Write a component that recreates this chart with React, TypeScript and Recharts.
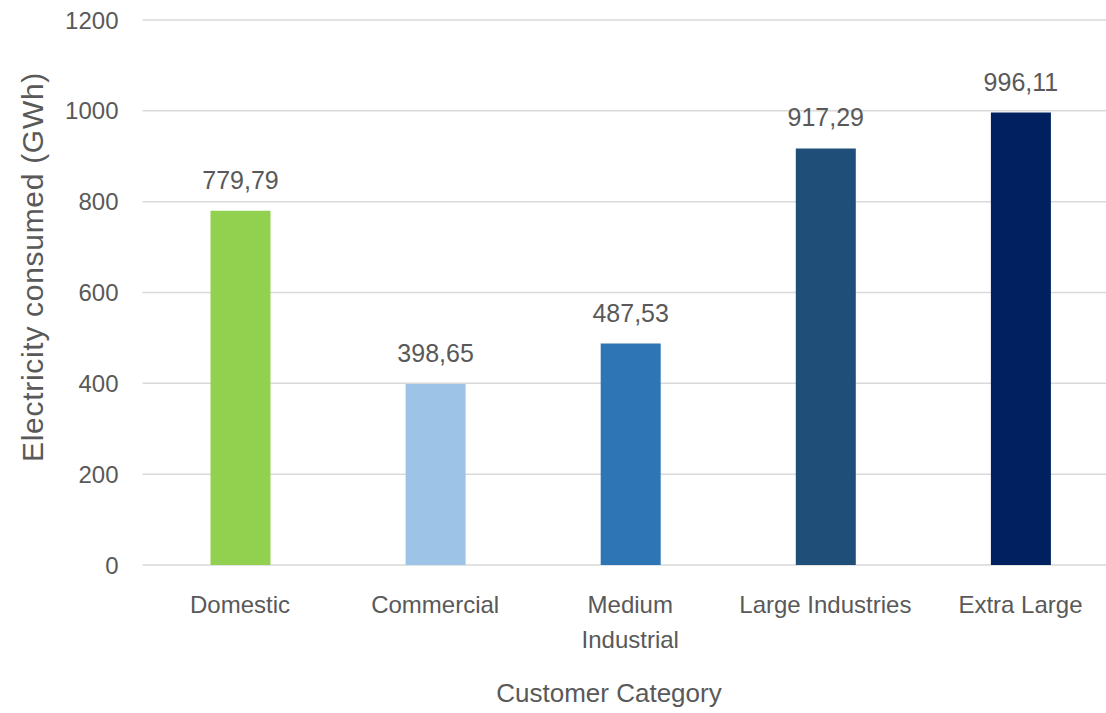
import React from 'react'
import { BarChart, Bar, XAxis, YAxis, CartesianGrid, Cell, LabelList, Label } from 'recharts'

const CATEGORIES = ['Domestic', 'Commercial', 'Medium Industrial', 'Large Industries', 'Extra Large']
const TICK_LINES: Record<string, string[]> = {
  'Domestic': ['Domestic'],
  'Commercial': ['Commercial'],
  'Medium Industrial': ['Medium', 'Industrial'],
  'Large Industries': ['Large Industries'],
  'Extra Large': ['Extra Large'],
}
const CONSUMPTION = [779.79, 398.65, 487.53, 917.29, 996.11]
const BAR_COLORS = ['#92D050', '#9DC3E6', '#2E75B6', '#1F4E79', '#002060']
const Y_TICKS = [0, 200, 400, 600, 800, 1000, 1200]

const data = CATEGORIES.map((name, i) => ({ name, value: CONSUMPTION[i] }))

const TEXT = '#595959'
const FONT = '"Liberation Sans", Arial, sans-serif'

const CategoryTick = ({ x, y, payload }: { x?: number; y?: number; payload?: { value: string } }) => {
  const lines = TICK_LINES[payload?.value ?? ''] ?? [payload?.value ?? '']
  return (
    <text x={x} y={y} textAnchor="middle" fill={TEXT} fontSize={24} fontFamily={FONT}>
      {lines.map((l, i) => (
        <tspan key={l} x={x} dy={i === 0 ? '0.71em' : 35}>{l}</tspan>
      ))}
    </text>
  )
}

export default function App() {
  return (
    <div style={{ position: 'fixed', left: 0, top: 0, width: 1106, height: 713, overflow: 'hidden', background: '#fff' }}>
      <BarChart
        width={1118}
        height={713}
        data={data}
        margin={{ top: 20, right: 0, bottom: 0, left: 0 }}
        style={{ fontFamily: FONT }}
      >
        <CartesianGrid vertical={false} stroke="#D9D9D9" strokeWidth={1.5} />
        <XAxis
          dataKey="name"
          height={148}
          axisLine={false}
          tickLine={false}
          tickMargin={25}
          tick={<CategoryTick />}
          interval={0}
        >
          <Label
            content={() => (
              <text x={609} y={693} textAnchor="middle" dominantBaseline="central" fill={TEXT} fontSize={26} fontFamily={FONT}>
                Customer Category
              </text>
            )}
          />
        </XAxis>
        <YAxis
          width={142.5}
          domain={[0, 1200]}
          ticks={Y_TICKS}
          axisLine={false}
          tickLine={false}
          tickMargin={18}
          tick={{ fill: TEXT, fontSize: 24, fontFamily: FONT }}
        >
          <Label
            content={() => (
              <text
                x={32}
                y={267}
                transform="rotate(-90 32 267)"
                textAnchor="middle"
                dominantBaseline="central"
                fill={TEXT}
                fontSize={30}
                letterSpacing={0.7}
                fontFamily={FONT}
              >
                Electricity consumed (GWh)
              </text>
            )}
          />
        </YAxis>
        <Bar dataKey="value" barSize={60} isAnimationActive={false}>
          {data.map((d, i) => (
            <Cell key={d.name} fill={BAR_COLORS[i]} />
          ))}
          <LabelList
            dataKey="value"
            position="top"
            offset={22}
            fill={TEXT}
            fontSize={25}
            fontFamily={FONT}
            formatter={(v: number) => v.toFixed(2).replace('.', ',')}
          />
        </Bar>
      </BarChart>
    </div>
  )
}
